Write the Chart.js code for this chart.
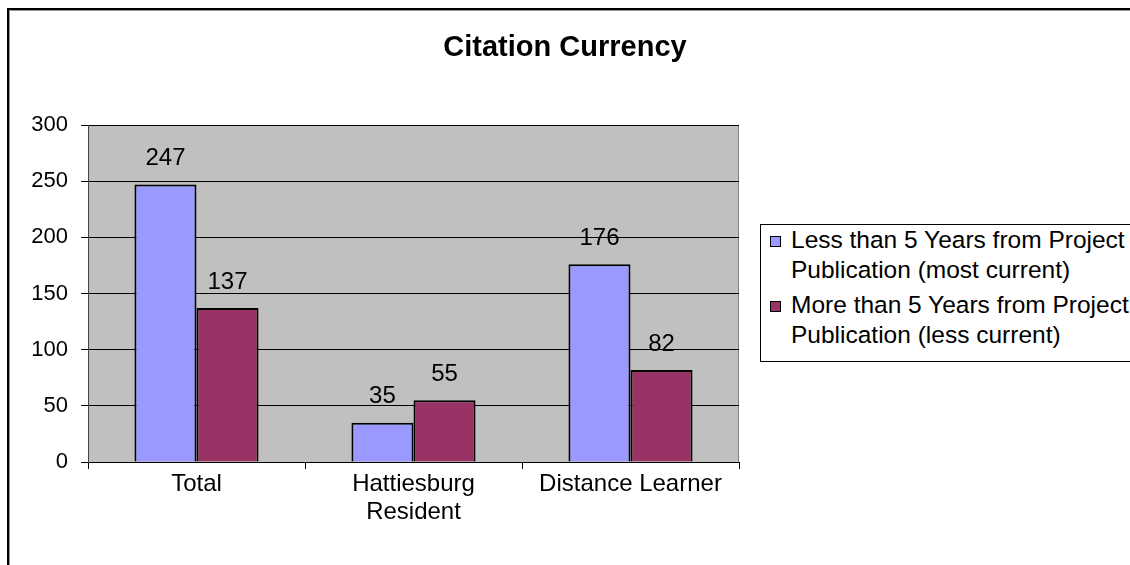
<!DOCTYPE html>
<html>
<head>
<meta charset="utf-8">
<script src="https://cdn.jsdelivr.net/npm/chart.js@4"></script>
<style>
  html, body { margin: 0; padding: 0; width: 1130px; height: 565px; overflow: hidden; background: #fff; }
  #wrap { position: relative; width: 1130px; height: 565px; font-family: "Liberation Sans", Arial, sans-serif; }
  #frame { position: absolute; left: 7px; top: 8px; width: 1200px; height: 700px; border-top: 2px solid #000; border-left: 2px solid #000; box-shadow: inset 1px 1px 0 #999; }
  #title { position: absolute; left: 0; width: 1130px; top: 29px; line-height: 34px; text-align: center; font-weight: bold; font-size: 29px; color: #000; }
  #legend { position: absolute; left: 760px; top: 224px; width: 420px; height: 136px; border: 1px solid #000; background: #fff; }
  .item { position: absolute; left: 30px; width: 370px; font-size: 24.5px; line-height: 30px; color: #000; white-space: nowrap; }
  .swatch { position: absolute; left: -21px; top: 11px; width: 9px; height: 9px; border: 1px solid #000; }
  canvas { position: absolute; left: 0; top: 0; }
</style>
</head>
<body>
<div id="wrap">
  <div id="frame"></div>
  <canvas id="citations" width="1130" height="565"></canvas>
  <div id="title">Citation Currency</div>
  <div id="legend"></div>
</div>
<script>
// categories and series
const categories = ['Total', ['Hattiesburg', 'Resident'], 'Distance Learner'];
const seriesNames = [
    ['Less than 5 Years from Project', 'Publication (most current)'],
    ['More than 5 Years from Project', 'Publication (less current)']
];
const lessThan5 = [247, 35, 176];
const moreThan5 = [137, 55, 82];
const seriesColors = ['#9999FF', '#993366'];

const font = '"Liberation Sans", Arial, sans-serif';

// gray plot area behind the bars
const plotBackground = {
    id: 'plotBackground',
    beforeDraw(chart) {
        const { ctx, chartArea: a } = chart;
        ctx.save();
        ctx.fillStyle = '#C0C0C0';
        ctx.fillRect(a.left, a.top, a.right - a.left, a.bottom - a.top);
        ctx.strokeStyle = '#808080';
        ctx.lineWidth = 1;
        ctx.strokeRect(a.left + 0.5, a.top + 0.5, a.right - a.left - 1, a.bottom - a.top);
        ctx.restore();
    }
};

// value labels above each bar
const valueLabels = {
    id: 'valueLabels',
    afterDatasetsDraw(chart) {
        const ctx = chart.ctx;
        ctx.save();
        ctx.font = '24px ' + font;
        ctx.fillStyle = '#000';
        ctx.textAlign = 'center';
        ctx.textBaseline = 'middle';
        chart.data.datasets.forEach((ds, i) => {
            chart.getDatasetMeta(i).data.forEach((bar, j) => {
                ctx.fillText(String(ds.data[j]), bar.x, bar.y - 26);
            });
        });
        ctx.restore();
    }
};

const cntx = document.getElementById('citations').getContext('2d');
new Chart(cntx, {
    type: 'bar',
    data: {
        labels: categories,
        datasets: [{
            label: seriesNames[0].join(' '),
            data: lessThan5,
            backgroundColor: seriesColors[0],
            borderColor: '#000',
            borderWidth: 2
        }, {
            label: seriesNames[1].join(' '),
            data: moreThan5,
            backgroundColor: seriesColors[1],
            borderColor: '#000',
            borderWidth: 2
        }]
    },
    options: {
        responsive: false,
        animation: false,
        layout: { padding: { top: 125, right: 391, left: 0, bottom: 0 } },
        plugins: {
            legend: { display: false },
            title: { display: false },
            tooltip: { enabled: false }
        },
        datasets: { bar: { barPercentage: 1, categoryPercentage: 0.572 } },
        scales: {
            x: {
                afterFit: s => { s.height = 103; },
                grid: { offset: true, drawOnChartArea: false, color: '#000', tickLength: 7 },
                border: { color: '#000' },
                ticks: { color: '#000', padding: 2, font: { family: font, size: 24, lineHeight: 1.15 }, maxRotation: 0, autoSkip: false }
            },
            y: {
                min: 0,
                max: 300,
                afterFit: s => { s.width = 88; },
                grid: { color: '#000', tickLength: 7 },
                border: { color: '#444' },
                ticks: { stepSize: 50, color: '#000', padding: 13, font: { family: font, size: 22 } }
            }
        }
    },
    plugins: [plotBackground, valueLabels]
});

// html legend built from the series arrays
const legend = document.getElementById('legend');
seriesNames.forEach((lines, i) => {
    const item = document.createElement('div');
    item.className = 'item';
    item.style.top = (i === 0 ? 0 : 65) + 'px';
    const sw = document.createElement('span');
    sw.className = 'swatch';
    sw.style.background = seriesColors[i];
    item.appendChild(sw);
    lines.forEach((t, k) => {
        if (k) item.appendChild(document.createElement('br'));
        item.appendChild(document.createTextNode(t));
    });
    legend.appendChild(item);
});
</script>
</body>
</html>
